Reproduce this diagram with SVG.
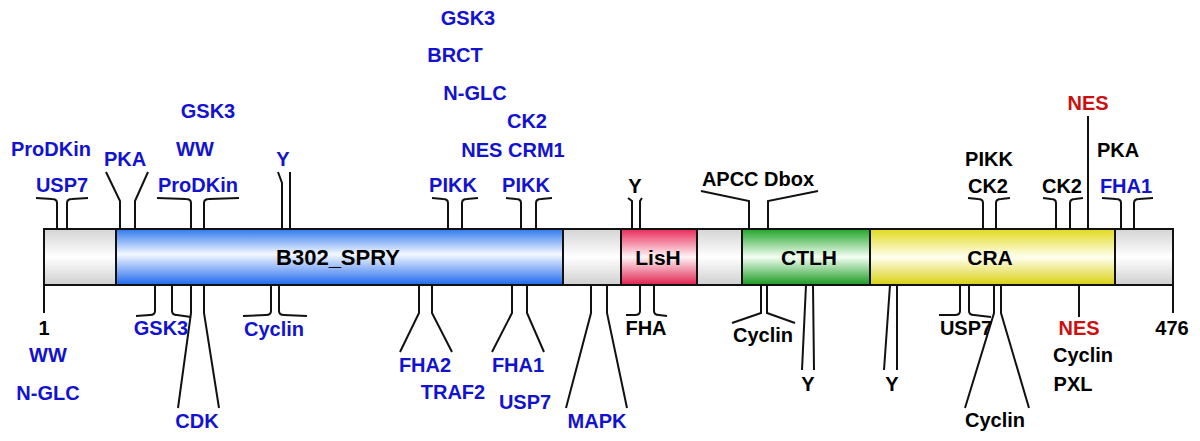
<svg xmlns="http://www.w3.org/2000/svg" width="1200" height="441" viewBox="0 0 1200 441">
<defs>
<linearGradient id="gGray" x1="0" y1="0" x2="0" y2="1">
<stop offset="0" stop-color="#d4d4d4"/><stop offset="0.5" stop-color="#ffffff"/><stop offset="1" stop-color="#cfcfcf"/>
</linearGradient>
<linearGradient id="gBlue" x1="0" y1="0" x2="0" y2="1">
<stop offset="0" stop-color="#2f78ee"/><stop offset="0.45" stop-color="#f4f8ff"/><stop offset="1" stop-color="#1f68ee"/>
</linearGradient>
<linearGradient id="gRed" x1="0" y1="0" x2="0" y2="1">
<stop offset="0" stop-color="#e82a58"/><stop offset="0.5" stop-color="#fff4f6"/><stop offset="1" stop-color="#e0204e"/>
</linearGradient>
<linearGradient id="gGreen" x1="0" y1="0" x2="0" y2="1">
<stop offset="0" stop-color="#20a428"/><stop offset="0.5" stop-color="#f4fff4"/><stop offset="1" stop-color="#189a20"/>
</linearGradient>
<linearGradient id="gYellow" x1="0" y1="0" x2="0" y2="1">
<stop offset="0" stop-color="#e2da1c"/><stop offset="0.5" stop-color="#fffff0"/><stop offset="1" stop-color="#d8d010"/>
</linearGradient>
</defs>
<style>
text{font-family:"Liberation Sans",Arial,sans-serif;font-weight:bold;font-size:20px;text-anchor:middle}
.b{fill:#1212d0}.k{fill:#000}.r{fill:#cc1010}
.dl{font-size:21px;fill:#000}
.seg{stroke:#111;stroke-width:2}
.c{fill:none;stroke:#111;stroke-width:2}
</style>
<rect width="1200" height="441" fill="#fff"/>
<g id="protein">
<rect id="seg-n" class="seg" x="44" y="229" width="72" height="56" fill="url(#gGray)"/>
<rect id="B302_SPRY" class="seg" x="116" y="229" width="447" height="56" fill="url(#gBlue)"/>
<rect id="seg-g2" class="seg" x="563" y="229" width="58" height="56" fill="url(#gGray)"/>
<rect id="LisH" class="seg" x="621" y="229" width="76" height="56" fill="url(#gRed)"/>
<rect id="seg-g3" class="seg" x="697" y="229" width="45" height="56" fill="url(#gGray)"/>
<rect id="CTLH" class="seg" x="742" y="229" width="128" height="56" fill="url(#gGreen)"/>
<rect id="CRA" class="seg" x="870" y="229" width="245" height="56" fill="url(#gYellow)"/>
<rect id="seg-c" class="seg" x="1115" y="229" width="58" height="56" fill="url(#gGray)"/>
<text class="dl" x="338" y="265" style="font-size:22px">B302_SPRY</text>
<text class="dl" x="658" y="265">LisH</text>
<text class="dl" x="809" y="265">CTLH</text>
<text class="dl" x="990" y="265">CRA</text>
</g>
<g id="connectors">
<path class="c" d="M57,229V203Q57,199 52,199L36,198M67,229V203Q67,199 72,199L88,198"/>
<path class="c" d="M120,229V201L106,172M135,229V201L148,172"/>
<path class="c" d="M191,229V203Q191,199 186,199L157,198M204,229V203Q204,199 209,199L239,198"/>
<path class="c" d="M282,229V183L278,172M290,229V172"/>
<path class="c" d="M448,229V203Q448,199 443,199L432,198M462,229V203Q462,199 467,199L478,198"/>
<path class="c" d="M521,229V203Q521,199 516,199L506,198M536,229V203Q536,199 541,199L552,198"/>
<path class="c" d="M632,229V201L628,198M640,229V201L642,198"/>
<path class="c" d="M749,229V201L701,191M768,229V201L818,191"/>
<path class="c" d="M983,229V203Q983,199 978,199L968,198M996,229V203Q996,199 1001,199L1010,198"/>
<path class="c" d="M1056,229V203Q1056,199 1051,199L1043,198M1070,229V203Q1070,199 1075,199L1083,198"/>
<path class="c" d="M1088,229V116"/>
<path class="c" d="M1121,229V203Q1121,199 1116,199L1102,198M1134,229V203Q1134,199 1139,199L1153,198"/>
<path class="c" d="M44,285V313"/>
<path class="c" d="M155,285V311Q155,315 150,315L136,316M172,285V311Q172,315 177,315L191,317"/>
<path class="c" d="M191,285V313L178,408M204,285V313L219,408"/>
<path class="c" d="M271,285V311Q271,315 266,315L243,316M279,285V311Q279,315 284,315L307,316"/>
<path class="c" d="M419,285V313L400,352M432,285V313L452,352"/>
<path class="c" d="M512,285V313L492,352M527,285V313L544,352"/>
<path class="c" d="M591,285V313L566,408M607,285V313L627,408"/>
<path class="c" d="M640,285V311Q640,315 635,315L626,315M654,285V311Q654,315 659,315L667,316"/>
<path class="c" d="M761,285V313L732,323M767,285V313L795,323"/>
<path class="c" d="M806,285L802,370M813,285L814,370"/>
<path class="c" d="M890,285L884,370M897,285V370"/>
<path class="c" d="M960,285V311Q960,315 955,315L939,315M969,285V311Q969,315 974,315L991,317"/>
<path class="c" d="M994,285V313L965,408M1001,285V313L1029,408"/>
<path class="c" d="M1079,285V317"/>
<path class="c" d="M1173,285V313"/>
</g>
<g id="labels-top">
<text class="b" x="51" y="156">ProDKin</text>
<text class="b" x="62" y="192">USP7</text>
<text class="b" x="125" y="166">PKA</text>
<text class="b" x="208" y="118">GSK3</text>
<text class="b" x="195" y="156">WW</text>
<text class="b" x="198" y="192">ProDKin</text>
<text class="b" x="283" y="166">Y</text>
<text class="b" x="468" y="25">GSK3</text>
<text class="b" x="455" y="62">BRCT</text>
<text class="b" x="475" y="100">N-GLC</text>
<text class="b" x="527" y="128">CK2</text>
<text class="b" x="513" y="157">NES CRM1</text>
<text class="b" x="453" y="192">PIKK</text>
<text class="b" x="526" y="192">PIKK</text>
<text class="k" x="635" y="193">Y</text>
<text class="k" x="758" y="186">APCC Dbox</text>
<text class="k" x="989" y="166">PIKK</text>
<text class="k" x="988" y="193">CK2</text>
<text class="k" x="1062" y="193">CK2</text>
<text class="r" x="1088" y="110">NES</text>
<text class="k" x="1118" y="157">PKA</text>
<text class="b" x="1126" y="193">FHA1</text>
</g>
<g id="labels-bottom">
<text class="k" x="44" y="335">1</text>
<text class="b" x="48" y="362">WW</text>
<text class="b" x="48" y="400">N-GLC</text>
<text class="b" x="161" y="335">GSK3</text>
<text class="b" x="197" y="428">CDK</text>
<text class="b" x="274" y="336">Cyclin</text>
<text class="b" x="425" y="372">FHA2</text>
<text class="b" x="453" y="399">TRAF2</text>
<text class="b" x="518" y="372">FHA1</text>
<text class="b" x="525" y="409">USP7</text>
<text class="b" x="597" y="428">MAPK</text>
<text class="k" x="646" y="335">FHA</text>
<text class="k" x="763" y="342">Cyclin</text>
<text class="k" x="808" y="391">Y</text>
<text class="k" x="892" y="391">Y</text>
<text class="k" x="966" y="335">USP7</text>
<text class="k" x="995" y="427">Cyclin</text>
<text class="r" x="1079" y="335">NES</text>
<text class="k" x="1083" y="362">Cyclin</text>
<text class="k" x="1073" y="391">PXL</text>
<text class="k" x="1172" y="335">476</text>
</g>
</svg>
